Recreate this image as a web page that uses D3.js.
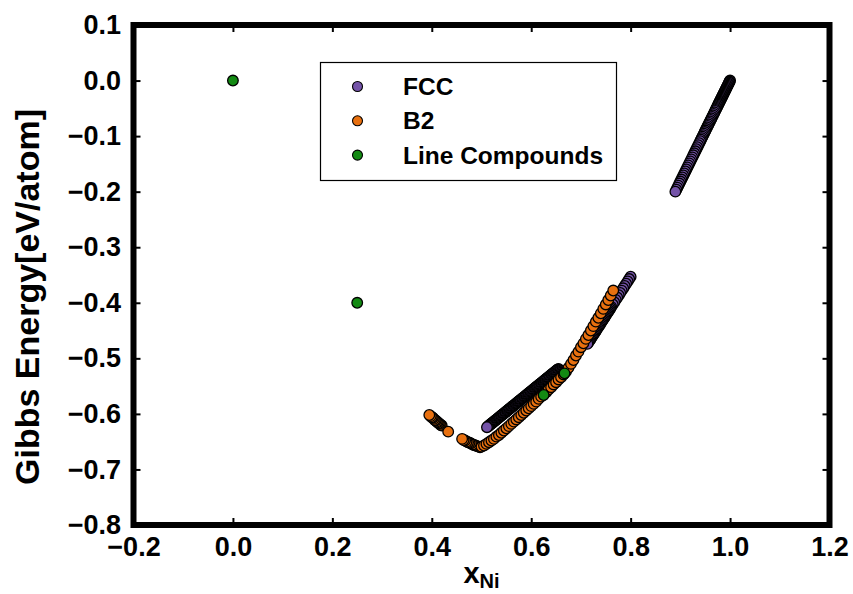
<!DOCTYPE html>
<html>
<head>
<meta charset="utf-8">
<script src="https://cdn.jsdelivr.net/npm/d3@7"></script>
<style>
  body { margin: 0; background: #fff; }
  svg { display: block; }
  text { font-family: "Liberation Sans", Arial, Helvetica, sans-serif; font-weight: bold; fill: #000; }
</style>
</head>
<body>
<svg id="chart" width="853" height="594"></svg>
<script>
// Axis ticks
const xTicks = [-0.2, 0.0, 0.2, 0.4, 0.6, 0.8, 1.0, 1.2];
const yTicks = [0.1, 0.0, -0.1, -0.2, -0.3, -0.4, -0.5, -0.6, -0.7, -0.8];

// FCC energies, [x_Ni, G (eV/atom)]
const fccPoints = [
  // Ni-rich branch
  [0.890, -0.2000], [0.892, -0.1964], [0.894, -0.1927], [0.896, -0.1891], [0.898, -0.1854],
  [0.900, -0.1818], [0.902, -0.1782], [0.904, -0.1745], [0.906, -0.1709], [0.908, -0.1673],
  [0.910, -0.1636], [0.912, -0.1600], [0.914, -0.1563], [0.916, -0.1527], [0.918, -0.1491],
  [0.920, -0.1454], [0.922, -0.1418], [0.924, -0.1382], [0.926, -0.1345], [0.928, -0.1309],
  [0.930, -0.1273], [0.932, -0.1236], [0.934, -0.1200], [0.936, -0.1164], [0.938, -0.1127],
  [0.940, -0.1091], [0.9415, -0.1064], [0.943, -0.1036], [0.9445, -0.1009], [0.946, -0.0982],
  [0.9475, -0.0955], [0.949, -0.0927], [0.9505, -0.0900], [0.952, -0.0873], [0.9535, -0.0845],
  [0.955, -0.0818], [0.9565, -0.0791], [0.958, -0.0764], [0.9595, -0.0736], [0.961, -0.0709],
  [0.9625, -0.0682], [0.964, -0.0655], [0.9655, -0.0627], [0.967, -0.0600], [0.9685, -0.0573],
  [0.970, -0.0545], [0.971, -0.0527], [0.972, -0.0509], [0.973, -0.0491], [0.974, -0.0473],
  [0.975, -0.0455], [0.976, -0.0436], [0.977, -0.0418], [0.978, -0.0400], [0.979, -0.0382],
  [0.980, -0.0364], [0.981, -0.0345], [0.982, -0.0327], [0.983, -0.0309], [0.984, -0.0291],
  [0.985, -0.0273], [0.986, -0.0255], [0.987, -0.0236], [0.988, -0.0218], [0.989, -0.0200],
  [0.990, -0.0182], [0.991, -0.0164], [0.992, -0.0145], [0.993, -0.0127], [0.994, -0.0109],
  [0.995, -0.0091], [0.996, -0.0073], [0.997, -0.0055], [0.998, -0.0036], [0.999, -0.0018],
  [1.000, 0.0000],
  // branch above B2
  [0.5110, -0.6240], [0.5125, -0.6229], [0.5140, -0.6218], [0.5155, -0.6207], [0.5170, -0.6196],
  [0.5185, -0.6185], [0.5200, -0.6174], [0.5215, -0.6163], [0.5230, -0.6152], [0.5245, -0.6141],
  [0.5260, -0.6130], [0.5275, -0.6120], [0.5290, -0.6109], [0.5305, -0.6098], [0.5320, -0.6087],
  [0.5335, -0.6076], [0.5350, -0.6065], [0.5365, -0.6054], [0.5380, -0.6043], [0.5395, -0.6032],
  [0.5410, -0.6021], [0.5425, -0.6010], [0.5440, -0.5999], [0.5455, -0.5988], [0.5470, -0.5977],
  [0.5485, -0.5966], [0.5500, -0.5955], [0.5515, -0.5944], [0.5530, -0.5933], [0.5545, -0.5922],
  [0.5560, -0.5912], [0.5575, -0.5901], [0.5590, -0.5890], [0.5605, -0.5879], [0.5620, -0.5868],
  [0.5635, -0.5857], [0.5650, -0.5846], [0.5665, -0.5835], [0.5680, -0.5824], [0.5695, -0.5813],
  [0.5710, -0.5802], [0.5725, -0.5791], [0.5740, -0.5780], [0.5755, -0.5769], [0.5770, -0.5758],
  [0.5785, -0.5747], [0.5800, -0.5736], [0.5815, -0.5725], [0.5830, -0.5714], [0.5845, -0.5703],
  [0.5860, -0.5693], [0.5875, -0.5682], [0.5890, -0.5671], [0.5905, -0.5660], [0.5920, -0.5649],
  [0.5935, -0.5638], [0.5950, -0.5627], [0.5965, -0.5616], [0.5980, -0.5605], [0.5995, -0.5594],
  [0.6010, -0.5583], [0.6025, -0.5572], [0.6040, -0.5561], [0.6055, -0.5550], [0.6070, -0.5539],
  [0.6085, -0.5528], [0.6100, -0.5517], [0.6115, -0.5506], [0.6130, -0.5495], [0.6145, -0.5485],
  [0.6160, -0.5474], [0.6175, -0.5463], [0.6190, -0.5452], [0.6205, -0.5441], [0.6220, -0.5430],
  [0.6235, -0.5419], [0.6250, -0.5408], [0.6265, -0.5397], [0.6280, -0.5386], [0.6295, -0.5375],
  [0.6310, -0.5364], [0.6325, -0.5353], [0.6340, -0.5342], [0.6355, -0.5331], [0.6370, -0.5320],
  [0.6385, -0.5309], [0.6400, -0.5298], [0.6415, -0.5287], [0.6430, -0.5277], [0.6445, -0.5266],
  [0.6460, -0.5255], [0.6475, -0.5244], [0.6490, -0.5233], [0.6505, -0.5222], [0.6520, -0.5211],
  [0.6535, -0.5200], [0.6550, -0.5189],
  // branch below B2
  [0.7130, -0.4740], [0.7145, -0.4719], [0.7160, -0.4698], [0.7175, -0.4677], [0.7190, -0.4657],
  [0.7205, -0.4636], [0.7220, -0.4615], [0.7235, -0.4594], [0.7250, -0.4573], [0.7265, -0.4552],
  [0.7280, -0.4532], [0.7295, -0.4511], [0.7310, -0.4490], [0.7325, -0.4469], [0.7340, -0.4448],
  [0.7355, -0.4427], [0.7370, -0.4406], [0.7385, -0.4386], [0.7400, -0.4365], [0.7415, -0.4344],
  [0.7430, -0.4323], [0.7445, -0.4302], [0.7460, -0.4281], [0.7475, -0.4261], [0.7490, -0.4240],
  [0.7505, -0.4219], [0.7520, -0.4198], [0.7535, -0.4177], [0.7550, -0.4156], [0.7565, -0.4136],
  [0.7580, -0.4115], [0.7595, -0.4094], [0.7610, -0.4073], [0.7640, -0.4031], [0.7670, -0.3989],
  [0.7700, -0.3948], [0.7730, -0.3906], [0.7760, -0.3864], [0.7790, -0.3823], [0.7820, -0.3781],
  [0.7850, -0.3739], [0.7880, -0.3698], [0.7910, -0.3656], [0.7940, -0.3614], [0.7970, -0.3573],
  [0.8000, -0.3531]
];

// B2 energies, [x_Ni, G (eV/atom)] in plotting order
const b2Points = [
  [0.420, -0.621], [0.418, -0.620], [0.416, -0.618], [0.414, -0.617], [0.412, -0.615],
  [0.410, -0.614], [0.408, -0.612], [0.406, -0.611], [0.404, -0.609], [0.402, -0.607],
  [0.400, -0.606], [0.398, -0.604], [0.395, -0.602],
  [0.433, -0.632],
  [0.497, -0.660], [0.494, -0.659], [0.491, -0.658], [0.488, -0.657], [0.485, -0.656],
  [0.482, -0.655], [0.479, -0.653], [0.476, -0.652], [0.473, -0.651], [0.470, -0.650],
  [0.467, -0.648], [0.464, -0.647], [0.461, -0.645],
  [0.500, -0.659], [0.505, -0.657], [0.510, -0.654], [0.515, -0.651], [0.520, -0.648],
  [0.525, -0.645], [0.530, -0.641], [0.535, -0.638], [0.540, -0.634], [0.545, -0.630],
  [0.550, -0.626], [0.555, -0.622], [0.560, -0.618], [0.565, -0.614], [0.570, -0.610],
  [0.575, -0.606], [0.580, -0.602], [0.585, -0.598], [0.590, -0.594], [0.595, -0.590],
  [0.600, -0.586], [0.605, -0.582], [0.610, -0.578], [0.615, -0.573], [0.620, -0.569],
  [0.625, -0.565], [0.630, -0.561], [0.635, -0.556], [0.640, -0.552], [0.645, -0.547],
  [0.650, -0.543], [0.655, -0.538], [0.660, -0.534], [0.665, -0.529], [0.670, -0.524],
  [0.675, -0.517], [0.680, -0.510], [0.685, -0.503], [0.690, -0.495], [0.695, -0.488],
  [0.700, -0.480], [0.705, -0.473], [0.710, -0.465], [0.715, -0.458], [0.720, -0.450],
  [0.725, -0.442], [0.730, -0.434], [0.735, -0.427], [0.740, -0.419], [0.745, -0.411],
  [0.750, -0.403], [0.755, -0.395], [0.760, -0.387], [0.765, -0.378]
];

// Stoichiometric compounds
const lineCompoundPoints = [
  [0.000, 0.000], [0.250, -0.400], [0.625, -0.566], [0.667, -0.527]
];

const seriesNames = ["FCC", "B2", "Line Compounds"];
const seriesColors = ["#7453a8", "#e8700f", "#138a13"];

const svg = d3.select("#chart");
const plotLeft = 133.5, plotRight = 829.5, plotTop = 25, plotBottom = 525;

const x = d3.scaleLinear().domain([-0.2, 1.2]).range([plotLeft, plotRight]);
const y = d3.scaleLinear().domain([-0.8, 0.1]).range([plotBottom, plotTop]);
const fmt = d3.format(".1f");

// Scatter layers (FCC drawn from high to low x_Ni)
const layers = [d3.sort(fccPoints, d => -d[0]), b2Points, lineCompoundPoints];
const plot = svg.append("g");
layers.forEach((pts, i) => {
  plot.append("g").selectAll("circle")
    .data(pts)
    .join("circle")
    .attr("cx", d => x(d[0]))
    .attr("cy", d => y(d[1]))
    .attr("r", 5.3)
    .attr("fill", seriesColors[i])
    .attr("stroke", "#000")
    .attr("stroke-width", 1.3);
});

// Axes with inward ticks on every side
const tickLen = 7;
function styleAxis(g) {
  g.select(".domain").remove();
  g.selectAll(".tick line").attr("stroke", "#000").attr("stroke-width", 2);
  g.selectAll(".tick text").style("font-size", "27px").attr("fill", "#000");
}
svg.append("g").attr("transform", `translate(0,${plotBottom})`)
  .call(d3.axisBottom(x).tickValues(xTicks).tickSize(-tickLen).tickPadding(12).tickFormat(fmt))
  .call(styleAxis);
svg.append("g").attr("transform", `translate(0,${plotTop})`)
  .call(d3.axisTop(x).tickValues(xTicks).tickSize(-tickLen).tickFormat(""))
  .call(styleAxis);
svg.append("g").attr("transform", `translate(${plotLeft},0)`)
  .call(d3.axisLeft(y).tickValues(yTicks).tickSize(-tickLen).tickPadding(12.5).tickFormat(fmt))
  .call(styleAxis);
svg.append("g").attr("transform", `translate(${plotRight},0)`)
  .call(d3.axisRight(y).tickValues(yTicks).tickSize(-tickLen).tickFormat(""))
  .call(styleAxis);

// Frame
svg.append("rect")
  .attr("x", plotLeft).attr("y", plotTop)
  .attr("width", plotRight - plotLeft).attr("height", plotBottom - plotTop)
  .attr("fill", "none").attr("stroke", "#000").attr("stroke-width", 6);

// Axis titles
const xl = svg.append("text")
  .attr("x", (plotLeft + plotRight) / 2).attr("y", 583)
  .attr("text-anchor", "middle");
xl.append("tspan").style("font-size", "29px").text("x");
xl.append("tspan").style("font-size", "20px").attr("dy", 5).text("Ni");

svg.append("text")
  .attr("transform", "translate(27,297) rotate(-90)")
  .attr("text-anchor", "middle")
  .attr("dominant-baseline", "central")
  .style("font-size", "34px")
  .text("Gibbs Energy[eV/atom]");

// Legend
const legend = svg.append("g");
legend.append("rect")
  .attr("x", 320.5).attr("y", 62.5).attr("width", 296).attr("height", 118)
  .attr("fill", "#fff").attr("stroke", "#000").attr("stroke-width", 1.2);
seriesNames.forEach((name, i) => {
  const cy = 86.5 + i * 34.3;
  legend.append("circle")
    .attr("cx", 357.5).attr("cy", cy).attr("r", 5)
    .attr("fill", seriesColors[i]).attr("stroke", "#000").attr("stroke-width", 1.1);
  legend.append("text")
    .attr("x", 403).attr("y", cy)
    .attr("dominant-baseline", "central")
    .style("font-size", "24.5px")
    .text(name);
});
</script>
</body>
</html>
